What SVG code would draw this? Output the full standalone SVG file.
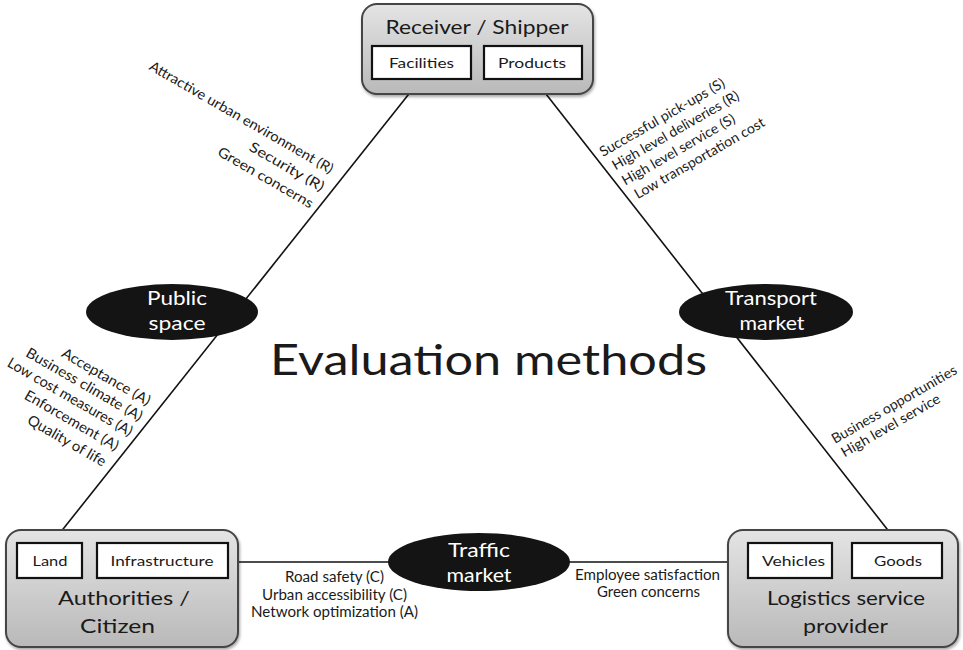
<svg xmlns="http://www.w3.org/2000/svg" width="963" height="650" viewBox="0 0 963 650">
<style>
text{font-family:Lato,"Open Sans","Liberation Sans",sans-serif;fill:#1a1a1a}
.box{fill:url(#g);stroke:#444;stroke-width:2}
.inner{fill:#fff;stroke:#111;stroke-width:2.2}
.ell{fill:#141414}
.wt{fill:#fff;font-size:19px;text-anchor:middle}
.ttl{font-size:19.5px;text-anchor:middle}
.lbl{font-size:14px;text-anchor:middle}
.sm{font-size:14px}
.md{font-size:14.5px}
.conn{stroke:#111;stroke-width:1.6;fill:none}
</style>
<defs>
<linearGradient id="g" x1="0" y1="0" x2="0" y2="1">
<stop offset="0" stop-color="#e4e4e4"/>
<stop offset="1" stop-color="#b9b9b9"/>
</linearGradient>
<filter id="sh" x="-10%" y="-10%" width="120%" height="125%">
<feGaussianBlur in="SourceAlpha" stdDeviation="1.5"/>
<feOffset dx="1" dy="2"/>
<feComponentTransfer><feFuncA type="linear" slope="0.35"/></feComponentTransfer>
<feMerge><feMergeNode/><feMergeNode in="SourceGraphic"/></feMerge>
</filter>
</defs>
<rect width="963" height="650" fill="#fff"/>

<g id="connectors">
<line class="conn" x1="420" y1="80" x2="52" y2="543"/>
<line class="conn" x1="535" y1="80" x2="898" y2="543"/>
<line class="conn" x1="228" y1="562" x2="748" y2="562"/>
</g>

<g id="receiver-shipper">
<rect class="box" x="362" y="4" width="231" height="90" rx="15" filter="url(#sh)"/>
<text class="ttl" x="477" y="34" textLength="183" lengthAdjust="spacingAndGlyphs">Receiver / Shipper</text>
<g id="facilities">
<rect class="inner" x="372" y="46" width="99" height="33"/>
<text class="lbl" x="421.5" y="68" textLength="65" lengthAdjust="spacingAndGlyphs">Facilities</text>
</g>
<g id="products">
<rect class="inner" x="484" y="46" width="98" height="33"/>
<text class="lbl" x="532" y="68" textLength="68" lengthAdjust="spacingAndGlyphs">Products</text>
</g>
</g>

<g id="authorities-citizen">
<rect class="box" x="6" y="530" width="232" height="117" rx="15" filter="url(#sh)"/>
<g id="land">
<rect class="inner" x="17" y="543" width="65" height="35"/>
<text class="lbl" x="50" y="566" textLength="35" lengthAdjust="spacingAndGlyphs">Land</text>
</g>
<g id="infrastructure">
<rect class="inner" x="97" y="543" width="131" height="35"/>
<text class="lbl" x="162" y="566" textLength="103" lengthAdjust="spacingAndGlyphs">Infrastructure</text>
</g>
<text class="ttl" x="124" y="605" textLength="132" lengthAdjust="spacingAndGlyphs">Authorities /</text>
<text class="ttl" x="117.5" y="633" textLength="75" lengthAdjust="spacingAndGlyphs">Citizen</text>
</g>

<g id="logistics-service-provider">
<rect class="box" x="728" y="530" width="230" height="117" rx="15" filter="url(#sh)"/>
<g id="vehicles">
<rect class="inner" x="748" y="543" width="84" height="35"/>
<text class="lbl" x="793.5" y="566" textLength="63" lengthAdjust="spacingAndGlyphs">Vehicles</text>
</g>
<g id="goods">
<rect class="inner" x="852" y="543" width="90" height="35"/>
<text class="lbl" x="898" y="566" textLength="48" lengthAdjust="spacingAndGlyphs">Goods</text>
</g>
<text class="ttl" x="846" y="605" textLength="158" lengthAdjust="spacingAndGlyphs">Logistics service</text>
<text class="ttl" x="845.5" y="633" textLength="85" lengthAdjust="spacingAndGlyphs">provider</text>
</g>

<g id="public-space">
<ellipse class="ell" cx="172" cy="312" rx="86" ry="28"/>
<text class="wt" x="177" y="305" textLength="60" lengthAdjust="spacingAndGlyphs">Public</text>
<text class="wt" x="177" y="330" textLength="57" lengthAdjust="spacingAndGlyphs">space</text>
</g>

<g id="transport-market">
<ellipse class="ell" cx="766" cy="312" rx="87" ry="28"/>
<text class="wt" x="771" y="305" textLength="92" lengthAdjust="spacingAndGlyphs">Transport</text>
<text class="wt" x="772" y="330" textLength="65" lengthAdjust="spacingAndGlyphs">market</text>
</g>

<g id="traffic-market">
<ellipse class="ell" cx="479" cy="562" rx="91" ry="29"/>
<text class="wt" x="479" y="557" textLength="62" lengthAdjust="spacingAndGlyphs">Traffic</text>
<text class="wt" x="479" y="582" textLength="65" lengthAdjust="spacingAndGlyphs">market</text>
</g>

<g id="title">
<text x="488.5" y="375" font-size="42" text-anchor="middle" textLength="437" lengthAdjust="spacingAndGlyphs">Evaluation methods</text>
</g>

<g id="labels-public-space" transform="translate(330,174) rotate(30)">
<text class="sm" x="0" y="0" text-anchor="end" textLength="210" lengthAdjust="spacingAndGlyphs">Attractive urban environment (R)</text>
<text class="sm" x="1" y="20" text-anchor="end" textLength="84" lengthAdjust="spacingAndGlyphs">Security (R)</text>
<text class="sm" x="0" y="40" text-anchor="end" textLength="108" lengthAdjust="spacingAndGlyphs">Green concerns</text>
</g>

<g id="labels-transport" transform="translate(603,157) rotate(-30)">
<text class="sm" x="0" y="0" textLength="142" lengthAdjust="spacingAndGlyphs">Successful pick-ups (S)</text>
<text class="sm" x="4" y="18" textLength="144" lengthAdjust="spacingAndGlyphs">High level deliveries (R)</text>
<text class="sm" x="5" y="36" textLength="128" lengthAdjust="spacingAndGlyphs">High level service (S)</text>
<text class="sm" x="9" y="54" textLength="148" lengthAdjust="spacingAndGlyphs">Low transportation cost</text>
</g>

<g id="labels-authorities" transform="translate(147,406) rotate(30)">
<text class="md" x="0" y="0" text-anchor="end" textLength="100" lengthAdjust="spacingAndGlyphs">Acceptance (A)</text>
<text class="md" x="1" y="17.5" text-anchor="end" textLength="132" lengthAdjust="spacingAndGlyphs">Business climate (A)</text>
<text class="md" x="0" y="35.5" text-anchor="end" textLength="142" lengthAdjust="spacingAndGlyphs">Low cost measures (A)</text>
<text class="md" x="-5" y="55" text-anchor="end" textLength="106" lengthAdjust="spacingAndGlyphs">Enforcement (A)</text>
<text class="md" x="-8" y="75" text-anchor="end" textLength="88" lengthAdjust="spacingAndGlyphs">Quality of life</text>
</g>

<g id="labels-logistics" transform="translate(835,444) rotate(-30)">
<text class="sm" x="0" y="0" textLength="142" lengthAdjust="spacingAndGlyphs">Business opportunities</text>
<text class="sm" x="1.5" y="16.5" textLength="112" lengthAdjust="spacingAndGlyphs">High level service</text>
</g>

<g id="labels-traffic-left" class="md" text-anchor="middle">
<text x="334.5" y="582" textLength="99" lengthAdjust="spacingAndGlyphs">Road safety (C)</text>
<text x="334.5" y="599.5" textLength="145" lengthAdjust="spacingAndGlyphs">Urban accessibility (C)</text>
<text x="334.5" y="617" textLength="167" lengthAdjust="spacingAndGlyphs">Network optimization (A)</text>
</g>

<g id="labels-traffic-right" class="md" text-anchor="middle">
<text x="647.5" y="580" textLength="145" lengthAdjust="spacingAndGlyphs">Employee satisfaction</text>
<text x="648.5" y="597" textLength="103" lengthAdjust="spacingAndGlyphs">Green concerns</text>
</g>
</svg>
